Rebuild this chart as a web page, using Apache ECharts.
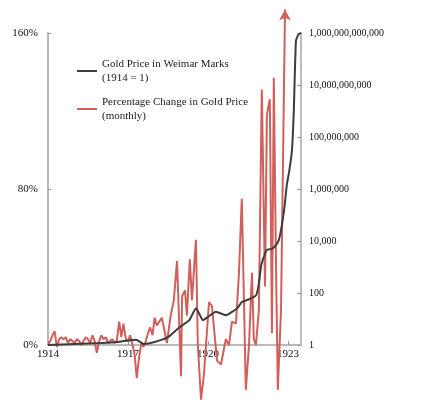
<!DOCTYPE html>
<html><head><meta charset="utf-8">
<script src="https://cdn.jsdelivr.net/npm/echarts@6/dist/echarts.min.js"></script>
<style>html,body{margin:0;padding:0;background:#fff}#c{width:434px;height:414px}</style>
</head><body><div id="c"></div>
<script>
const xTicks = [1914, 1917, 1920, 1923];
const goldYears = [1914,1915,1916,1916.6,1917,1917.3,1917.6,1918,1918.5,1918.9,1919.3,1919.55,1919.7,1919.81,1920.0,1920.3,1920.67,1921.1,1921.27,1921.5,1921.8,1921.9,1922.0,1922.1,1922.2,1922.4,1922.55,1922.66,1922.77,1922.87,1922.96,1923.05,1923.15,1923.22,1923.3,1923.4,1923.49];
const goldPrice = [1,1.1,1.2,1.3,1.5,1.6,1.1,1.3,2,4.5,9,26,14,9,12,19,14,26,45,55,80,200,1200,2500,4500,5000,7000,11000,40000,200000,1.5e6,5e6,3e7,1e9,5e11,9e11,1e12];
const pctYears = [1914,1914.08,1914.17,1914.25,1914.33,1914.42,1914.5,1914.58,1914.67,1914.75,1914.83,1914.92,1915,1915.08,1915.17,1915.25,1915.33,1915.42,1915.5,1915.58,1915.67,1915.75,1915.83,1915.92,1916,1916.08,1916.17,1916.25,1916.33,1916.42,1916.5,1916.58,1916.67,1916.75,1916.83,1916.92,1917,1917.08,1917.17,1917.25,1917.33,1917.42,1917.5,1917.58,1917.67,1917.75,1917.83,1917.92,1918,1918.08,1918.27,1918.46,1918.6,1918.72,1918.84,1918.99,1919.03,1919.14,1919.21,1919.32,1919.4,1919.55,1919.62,1919.74,1919.85,1920.04,1920.15,1920.34,1920.49,1920.67,1920.79,1920.9,1921.05,1921.16,1921.27,1921.42,1921.54,1921.65,1921.72,1921.8,1921.91,1922.02,1922.14,1922.21,1922.32,1922.4,1922.47,1922.55,1922.62,1922.74,1922.89];
const pctChange = [0,2,5,7,-1,3,4,3,4,1,3,2,1,3,2,0,2,4,3,1,5,2,-4,2,5,3,4,1,2,3,1,2,12,4,11,3,2,5,0,-5,-17,-6,1,-1,2,6,9,5,14,10,14,1,15,23,43,-16,25,28,15,44,23,54,0,-28,-15,22,20,-8,-10,3,0,12,11,36,75,-23,0,37,3,0,18,131,30,118,126,6,137,44,-23,18,172];
const leftTicks = ['0%','80%','160%'];
const seriesNames = ['Gold Price in Weimar Marks\n(1914 = 1)', 'Percentage Change in Gold Price\n(monthly)'];

const chart = echarts.init(document.getElementById('c'));
const font = 'Liberation Serif';
const red = '#d0605b', blk = '#3d3d3d';
const redData = pctYears.map((y,i)=> i===pctYears.length-1 ? {value:[y,pctChange[i]], symbol:'arrow', symbolSize:[9,11], itemStyle:{color:red}} : [y,pctChange[i]]);
chart.setOption({
  animation:false,
  textStyle:{fontFamily:font},
  grid:{left:48,right:133,top:33,bottom:69},
  legend:{orient:'vertical',left:72,top:52,itemWidth:20,itemHeight:2,itemGap:10,icon:'rect',
    textStyle:{fontFamily:font,fontSize:11,color:'#222',lineHeight:14},
    data:seriesNames},
  xAxis:{type:'value',min:1914,max:1923.49,interval:3,
    axisLine:{lineStyle:{color:'#bbb',width:2}},
    axisTick:{inside:true,length:4,lineStyle:{color:'#999'}},
    splitLine:{show:false},
    axisLabel:{fontFamily:font,fontSize:11,color:'#111',margin:4,showMaxLabel:false,
      formatter:v=> xTicks.includes(Math.round(v)) ? String(Math.round(v)) : ''}},
  yAxis:[
    {type:'value',min:0,max:160,interval:80,position:'left',
      axisLine:{show:true,lineStyle:{color:'#bbb',width:2}},
      axisTick:{show:true,inside:true,length:3,lineStyle:{color:'#999'}},
      splitLine:{show:false},
      axisLabel:{fontFamily:font,fontSize:11,color:'#111',margin:10,formatter:v=>leftTicks[v/80]}},
    {type:'log',logBase:100,min:1,max:1e12,position:'right',
      axisLine:{show:true,lineStyle:{color:'#bbb',width:2}},
      axisTick:{show:true,inside:true,length:4,lineStyle:{color:'#999'}},
      splitLine:{show:false},
      axisLabel:{fontFamily:font,fontSize:10,color:'#111',margin:8,formatter:v=>Math.round(v).toLocaleString('en-US')}}
  ],
  series:[
    {name:seriesNames[0],type:'line',yAxisIndex:1,showSymbol:false,symbol:'none',smooth:0.15,
      data:goldYears.map((y,i)=>[y,goldPrice[i]]),lineStyle:{color:blk,width:2},itemStyle:{color:blk},z:3},
    {name:seriesNames[1],type:'line',yAxisIndex:0,clip:false,symbol:'none',
      data:redData,lineStyle:{color:red,width:2},itemStyle:{color:red},z:2}
  ]
});
</script></body></html>
